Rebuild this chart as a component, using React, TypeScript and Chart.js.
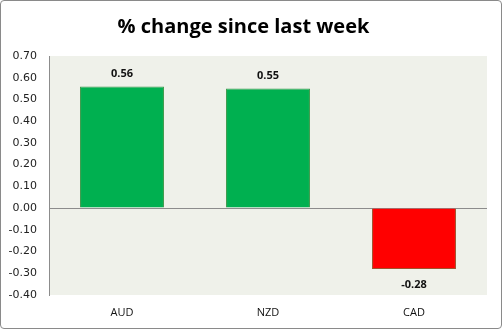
import React, { useEffect, useRef } from "react";
import { Chart, registerables } from "chart.js";

Chart.register(...registerables);

const title = "% change since last week";
const categories = ["AUD", "NZD", "CAD"];
const values = [0.56, 0.55, -0.28];
const fillColors = ["#00B050", "#00B050", "#FF0000"];
const borderColors = ["#3E9A4C", "#3E9A4C", "#A0522D"];
const yMin = -0.4;
const yMax = 0.7;
const yStep = 0.1;

const bgPlugin = {
  id: "plotBg",
  beforeDraw(chart: any) {
    const { ctx, chartArea } = chart;
    ctx.save();
    ctx.fillStyle = "#EFF1EA";
    ctx.fillRect(chartArea.left, chartArea.top, chartArea.right - chartArea.left, chartArea.bottom - chartArea.top);
    ctx.restore();
  },
};

const labelPlugin = {
  id: "valueLabels",
  afterDatasetsDraw(chart: any) {
    const { ctx } = chart;
    const meta = chart.getDatasetMeta(0);
    ctx.save();
    ctx.font = "bold 11px 'Open Sans'";
    ctx.fillStyle = "#111";
    ctx.textAlign = "center";
    ctx.textBaseline = "middle";
    meta.data.forEach((bar: any, i: number) => {
      const v = values[i];
      const y = v >= 0 ? bar.y - 13 : bar.y + 16;
      ctx.fillText(v.toFixed(2), bar.x, y);
    });
    ctx.restore();
  },
};

export default function App() {
  const ref = useRef<HTMLCanvasElement>(null);
  useEffect(() => {
    if (!ref.current) return;
    const chart = new Chart(ref.current, {
      type: "bar",
      data: {
        labels: categories,
        datasets: [
          {
            data: values,
            backgroundColor: fillColors,
            borderColor: borderColors,
            borderWidth: 1,
            categoryPercentage: 1,
            barPercentage: 0.575,
          },
        ],
      },
      plugins: [bgPlugin, labelPlugin],
      options: {
        responsive: false,
        animation: false,
        layout: { padding: { left: 0, right: 15, top: 0, bottom: 0 } },
        plugins: {
          legend: { display: false },
          tooltip: { enabled: false },
          title: {
            display: true,
            text: title,
            color: "#000",
            font: { family: "'Open Sans'", size: 20, weight: "bold", lineHeight: 1.2 },
            padding: { top: 15, bottom: 17 },
          },
        },
        scales: {
          x: {
            grid: { display: false },
            border: { display: false },
            ticks: { color: "#111", font: { family: "'Open Sans'", size: 11 }, padding: 3 },
            afterFit(scale: any) {
              scale.height = 34;
            },
          },
          y: {
            min: yMin,
            max: yMax,
            ticks: {
              stepSize: yStep,
              color: "#222",
              font: { family: "'DejaVu Sans'", size: 11 },
              padding: 12,
              callback: (v: any) => Number(v).toFixed(2),
            },
            grid: {
              drawTicks: false,
              color: (c: any) => (c.tick && Math.abs(c.tick.value) < 1e-9 ? "#8C8C8C" : "rgba(0,0,0,0)"),
            },
            border: { display: true, color: "#8C8C8C", width: 1 },
            afterFit(scale: any) {
              scale.width = 49;
            },
          },
        },
      },
    } as any);
    return () => chart.destroy();
  }, []);
  return (
    <div style={{ position: "fixed", left: 0, top: 0, width: 502, height: 329, background: "#fff" }}>
      <canvas ref={ref} width={502} height={329} style={{ position: "absolute", left: 0, top: 0 }} />
      <div
        style={{
          position: "absolute",
          left: 0,
          top: 0,
          width: 502,
          height: 329,
          boxSizing: "border-box",
          border: "1px solid #8A8A8A",
          borderRadius: 4,
          pointerEvents: "none",
        }}
      />
    </div>
  );
}
